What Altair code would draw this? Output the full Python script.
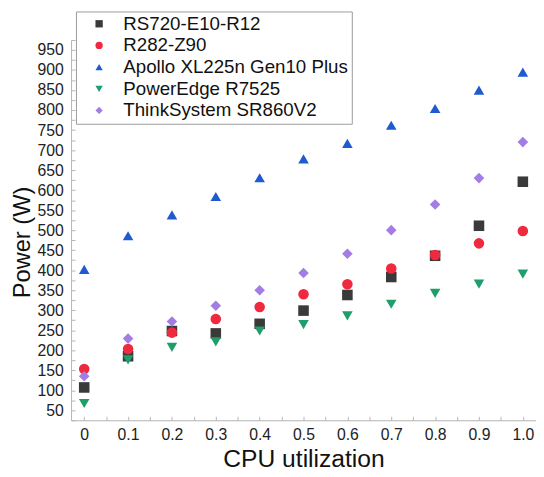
import altair as alt
import pandas as pd

utilization = [0.0, 0.1, 0.2, 0.3, 0.4, 0.5, 0.6, 0.7, 0.8, 0.9, 1.0]
series_names = ["RS720-E10-R12", "R282-Z90", "Apollo XL225n Gen10 Plus",
                "PowerEdge R7525", "ThinkSystem SR860V2"]
rs720 = [107, 185, 248, 242, 266, 299, 338, 383, 436, 511, 621]
r282 = [153, 203, 244, 278, 308, 340, 365, 404, 438, 467, 498]
apollo = [402, 486, 538, 584, 631, 678, 717, 762, 804, 850, 895]
poweredge = [67, 176, 207, 221, 248, 264, 286, 315, 342, 365, 390]
thinksystem = [135, 229, 272, 311, 350, 393, 441, 500, 564, 630, 720]

colors = ["#3a3a3a", "#ef2a3e", "#1f5bcf", "#1f9e6b", "#a47de4"]
shapes = ["square", "circle", "triangle-up", "triangle-down", "diamond"]

x_ticks = [0.0, 0.1, 0.2, 0.3, 0.4, 0.5, 0.6, 0.7, 0.8, 0.9, 1.0]
y_ticks = [50, 100, 150, 200, 250, 300, 350, 400, 450, 500, 550, 600, 650,
           700, 750, 800, 850, 900, 950]
x_minor = [round(i * 0.05, 2) for i in range(0, 21)]
y_minor = list(range(25, 976, 25))

rows = []
for name, vals in zip(series_names, [rs720, r282, apollo, poweredge, thinksystem]):
    for u, v in zip(utilization, vals):
        rows.append({"server": name, "u": u, "power": v})
df = pd.DataFrame(rows)
df["order"] = df["server"].map({n: i for i, n in enumerate(series_names)})

FONT = "Liberation Sans"
xdom = [-0.03, 1.03]
ydom = [25, 975]

points = alt.Chart(df).mark_point(filled=True, size=115, opacity=1).encode(
    x=alt.X("u:Q", scale=alt.Scale(domain=xdom, nice=False, zero=False),
            axis=alt.Axis(title="CPU utilization", values=x_ticks, ticks=False,
                          grid=False, domainColor="#b5b5b5", labelFontSize=16,
                          labelFont=FONT, labelColor="#222222", labelPadding=7,
                          labelExpr="datum.value == 0 ? '0' : format(datum.value, '.1f')",
                          titleFont=FONT, titleFontSize=25, titleFontWeight="normal",
                          titleColor="#111111", titleY=27, orient="bottom")),
    y=alt.Y("power:Q", scale=alt.Scale(domain=ydom, nice=False, zero=False),
            axis=alt.Axis(title="Power (W)", values=y_ticks, ticks=False,
                          grid=False, domainColor="#b5b5b5", labelFontSize=16,
                          labelFont=FONT, labelColor="#222222", labelPadding=8,
                          titleFont=FONT, titleFontSize=24, titleFontWeight="normal",
                          titleColor="#111111", titleX=-37, titleY=205,
                          titleBaseline="bottom", titleAlign="center", orient="left")),
    color=alt.Color("server:N", scale=alt.Scale(domain=series_names, range=colors),
                    sort=series_names,
                    legend=alt.Legend(title=None, orient="none", legendX=5, legendY=-29,
                                      labelFont=FONT, labelFontSize=19, labelColor="#111111",
                                      symbolSize=55, symbolStrokeWidth=0,
                                      rowPadding=2, padding=3, symbolOffset=11,
                                      labelOffset=15, strokeColor="#9a9a9a",
                                      fillColor="white", labelLimit=400)),
    shape=alt.Shape("server:N", scale=alt.Scale(domain=series_names, range=shapes),
                    sort=series_names),
    order=alt.Order("order:Q"),
)

ticks_layer = alt.Chart(df).mark_point(opacity=0).encode(
    x=alt.X("u:Q", scale=alt.Scale(domain=xdom, nice=False, zero=False),
            axis=alt.Axis(title=None, values=x_minor, labels=False, domain=False,
                          grid=False, tickSize=4, tickColor="#b5b5b5", offset=-4,
                          orient="bottom")),
    y=alt.Y("power:Q", scale=alt.Scale(domain=ydom, nice=False, zero=False),
            axis=alt.Axis(title=None, values=y_minor, labels=False, domain=False,
                          grid=False, tickSize=4, tickColor="#b5b5b5", offset=-4,
                          orient="left")),
)

chart = alt.layer(points, ticks_layer).resolve_scale(
    x="independent", y="independent"
).properties(
    width=472, height=386,
    autosize=alt.AutoSizeParams(type="none"),
    padding={"left": 64, "top": 29, "right": 0, "bottom": 50},
    background="white",
).configure_view(stroke=None)

chart.save("out.html", embed_options={"renderer": "svg", "actions": False})
